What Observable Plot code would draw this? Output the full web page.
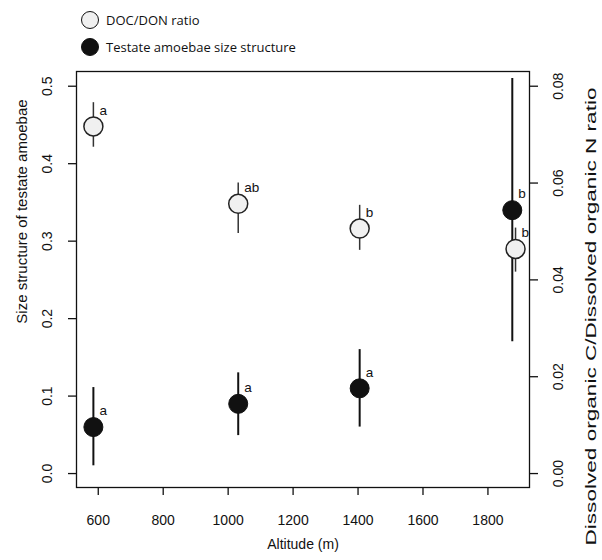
<!DOCTYPE html>
<html><head><meta charset="utf-8">
<script src="https://cdn.jsdelivr.net/npm/d3@7"></script>
<script src="https://cdn.jsdelivr.net/npm/@observablehq/plot@0.6"></script>
<style>
body{margin:0;background:#fff;width:602px;height:560px;overflow:hidden;}
#legend{height:62px;position:relative;font-family:"Open Sans",sans-serif;font-size:13px;color:#111;}
.item{position:absolute;left:81px;height:18px;display:flex;align-items:center;white-space:nowrap;}
.sw{width:18px;height:18px;border-radius:50%;box-sizing:border-box;border:1.8px solid #111;margin-right:7px;flex:none;}
</style></head>
<body>
<div id="legend"></div>
<div id="chart"></div>
<script>
// Testate amoebae size structure (left axis)
const altitudeAmoebae = [585, 1031, 1405, 1875];
const amoebaeSize = [0.06, 0.09, 0.11, 0.34];
const amoebaeLow = [0.01, 0.049, 0.06, 0.17];
const amoebaeHigh = [0.111, 0.13, 0.16, 0.51];
const amoebaeLetters = ["a", "a", "a", "b"];
// DOC/DON ratio (right axis)
const altitudeDoc = [585, 1031, 1405, 1885];
const docDonRatio = [0.0717, 0.0557, 0.0506, 0.0464];
const docDonLow = [0.0674, 0.0496, 0.0461, 0.0416];
const docDonHigh = [0.0766, 0.06, 0.0554, 0.0507];
const docLetters = ["a", "ab", "b", "b"];
// ticks
const xTicks = [600, 800, 1000, 1200, 1400, 1600, 1800];
const leftTicks = [0, 0.1, 0.2, 0.3, 0.4, 0.5];
const rightTicks = [0, 0.02, 0.04, 0.06, 0.08];
const legendLabels = ["DOC/DON ratio", "Testate amoebae size structure"];
const leftTitle = "Size structure of testate amoebae";
const rightTitle = "Dissolved organic C/Dissolved organic N ratio";
const xTitle = "Altitude (m)";

const ratio = 0.08 / 0.5; // right axis units per left axis unit

const amoebae = altitudeAmoebae.map((a, i) => ({x: a, y: amoebaeSize[i], lo: amoebaeLow[i], hi: amoebaeHigh[i], t: amoebaeLetters[i]}));
const doc = altitudeDoc.map((a, i) => ({x: a, y: docDonRatio[i] / ratio, lo: docDonLow[i] / ratio, hi: docDonHigh[i] / ratio, t: docLetters[i]}));

// legend
const leg = document.getElementById("legend");
[["#f0f0f0", 11], ["#111", 38]].forEach(([fill, top], i) => {
  const d = document.createElement("div");
  d.className = "item";
  d.style.top = top + "px";
  d.innerHTML = `<span class="sw" style="background:${fill}"></span><span>${legendLabels[i]}</span>`;
  leg.appendChild(d);
});

const font = "Liberation Sans, Arial, sans-serif";
const chart = Plot.plot({
  width: 602,
  height: 498,
  marginLeft: 76,
  marginRight: 73,
  marginTop: 9,
  marginBottom: 73,
  x: {domain: [533, 1928]},
  y: {domain: [-0.018, 0.519]},
  style: {fontFamily: font, fontSize: "14px", color: "#111", background: "#fff"},
  marks: [
    Plot.frame({stroke: "#111", strokeWidth: 1.3}),
    Plot.axisX({ticks: xTicks, tickSize: 8, tickPadding: 20, label: null, tickFormat: d => String(d), stroke: "#111", strokeWidth: 1.3}),
    Plot.axisY({ticks: leftTicks, tickSize: 8, tickFormat: () => "", label: null, stroke: "#111", strokeWidth: 1.3}),
    Plot.axisY({anchor: "right", ticks: rightTicks.map(v => v / ratio), tickSize: 8, tickFormat: () => "", label: null, stroke: "#111", strokeWidth: 1.3}),
    Plot.text(leftTicks, {y: d => d, frameAnchor: "left", textAnchor: "middle", dx: -29, rotate: -90, text: d => d.toFixed(1), fill: "#111"}),
    Plot.text(rightTicks, {y: d => d / ratio, frameAnchor: "right", textAnchor: "middle", dx: 29, rotate: -90, text: d => d.toFixed(2), fill: "#111"}),
    Plot.text([leftTitle], {frameAnchor: "left", textAnchor: "middle", dx: -54, dy: -68, rotate: -90, text: d => d, fill: "#111", fontSize: 15}),
    Plot.text([rightTitle], {frameAnchor: "right", textAnchor: "middle", dx: 62, dy: 37, rotate: -90, text: d => d, fill: "#111", fontSize: 15, className: "rtitle"}),
    Plot.text([xTitle], {frameAnchor: "bottom", dy: 61, text: d => d, fill: "#111"}),
    Plot.ruleX(amoebae, {x: "x", y1: "lo", y2: "hi", stroke: "#111", strokeWidth: 2}),
    Plot.ruleX(doc, {x: "x", y1: "lo", y2: "hi", stroke: "#333", strokeWidth: 1.5}),
    Plot.dot(amoebae, {x: "x", y: "y", r: 9.5, fill: "#111", stroke: "#111", strokeWidth: 1}),
    Plot.dot(doc, {x: "x", y: "y", r: 9.5, fill: "#f0f0f0", stroke: "#222", strokeWidth: 1.5}),
    Plot.text(amoebae, {x: "x", y: "y", text: "t", dx: 6, dy: -16, textAnchor: "start", fontSize: 13.5, fill: "#111"}),
    Plot.text(doc, {x: "x", y: "y", text: "t", dx: 6, dy: -16, textAnchor: "start", fontSize: 13.5, fill: "#111"})
  ]
});
// stretch the right-hand title along its baseline as in the reference
chart.querySelectorAll("text").forEach(t => {
  if (t.textContent === rightTitle) {
    t.setAttribute("textLength", 458);
    t.setAttribute("lengthAdjust", "spacingAndGlyphs");
  }
});
document.getElementById("chart").appendChild(chart);
</script>
</body></html>
